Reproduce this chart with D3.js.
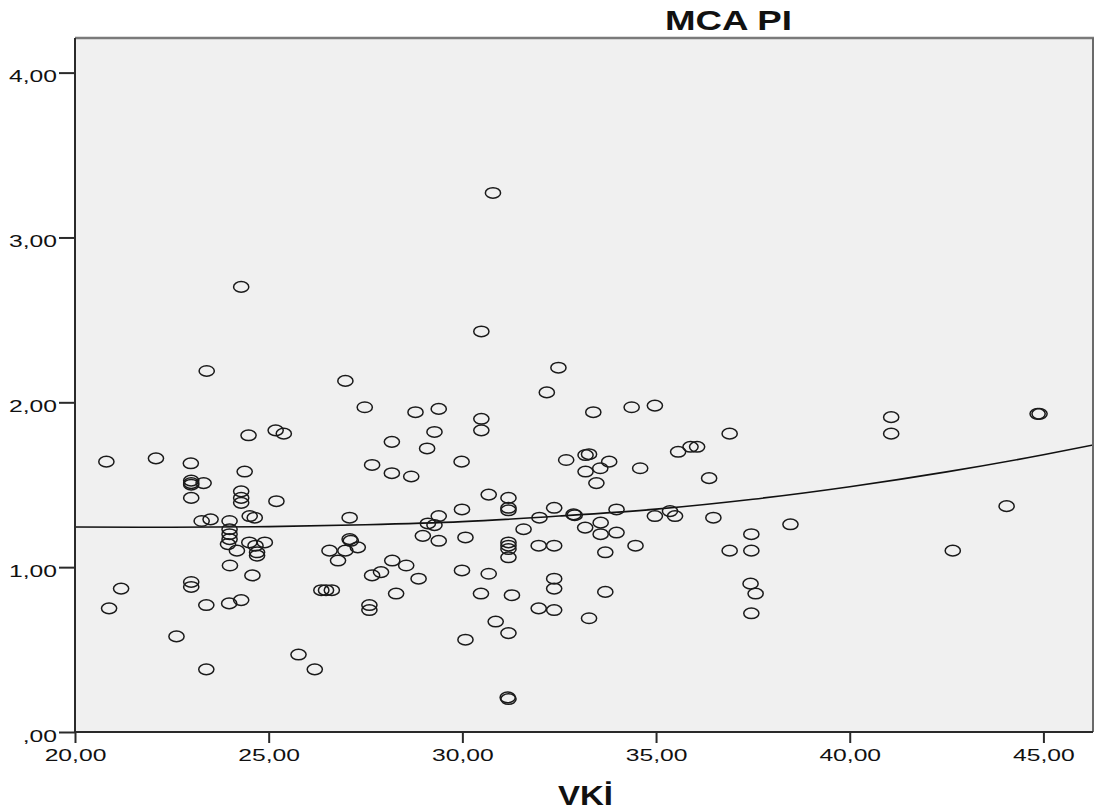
<!DOCTYPE html>
<html><head><meta charset="utf-8">
<script src="https://cdn.jsdelivr.net/npm/d3@7"></script>
<style>html,body{margin:0;padding:0;background:#fff;} svg{display:block;font-family:"Liberation Sans",Arial,sans-serif;}</style>
</head><body><svg id="c" width="1094" height="812"></svg>
<script>
// VKİ (x) values of each case
const bmiValues = [
 20.81,20.88,21.19,22.09,22.62,22.99,23.00,23.00,23.00,23.32,23.00,23.00,23.00,23.40,23.39,23.39,
 23.27,23.50,23.99,23.99,23.99,23.99,23.95,24.18,24.00,23.98,24.29,24.29,24.29,24.29,24.29,24.38,
 24.48,24.51,24.64,24.50,24.66,24.90,24.70,24.70,24.58,25.18,25.39,25.20,25.77,26.19,26.36,26.48,
 26.63,26.57,26.79,26.98,26.98,27.09,27.09,27.12,27.30,27.48,27.60,27.60,27.67,27.67,27.90,28.18,
 28.18,28.19,28.29,28.55,28.68,28.79,28.87,28.98,29.09,29.11,29.28,29.28,29.39,29.39,29.39,29.98,
 29.99,30.08,29.99,30.08,30.48,30.49,30.49,30.49,30.68,30.68,30.79,30.86,31.19,31.19,31.19,31.19,
 31.19,31.19,31.19,31.19,31.17,31.19,31.28,31.58,31.97,31.97,31.99,32.18,32.37,32.37,32.37,32.37,
 32.37,32.48,32.68,32.87,32.90,33.17,33.18,33.27,33.18,33.27,33.38,33.46,33.56,33.57,33.57,33.69,
 33.69,33.79,33.98,33.98,34.37,34.47,34.59,34.97,34.97,35.36,35.49,35.57,35.89,36.06,36.37,36.48,
 36.90,36.90,37.46,37.46,37.44,37.57,37.46,38.47,41.07,41.07,42.66,44.05,44.85,44.90
];
// MCA PI (y) values of each case
const mcaPiValues = [
 1.64,0.75,0.87,1.66,0.58,1.63,1.525,1.51,1.50,1.51,1.42,0.91,0.88,2.19,0.77,0.38,
 1.28,1.29,1.28,1.23,1.20,1.17,1.14,1.10,1.01,0.78,0.80,2.70,1.46,1.42,1.39,1.58,
 1.80,1.31,1.30,1.15,1.13,1.15,1.09,1.07,0.95,1.83,1.81,1.40,0.47,0.38,0.86,0.86,
 0.86,1.10,1.04,1.10,2.13,1.30,1.17,1.16,1.12,1.97,0.77,0.74,1.62,0.95,0.97,1.76,
 1.57,1.04,0.84,1.01,1.55,1.94,0.93,1.19,1.72,1.265,1.255,1.82,1.96,1.31,1.16,1.64,
 1.35,1.18,0.98,0.56,0.84,2.43,1.90,1.83,1.44,0.96,3.27,0.67,1.42,1.36,1.345,1.15,
 1.13,1.11,1.06,0.60,0.21,0.20,0.83,1.23,1.13,0.75,1.30,2.06,1.36,1.13,0.93,0.87,
 0.74,2.21,1.65,1.32,1.315,1.24,1.68,1.685,1.58,0.69,1.94,1.51,1.60,1.27,1.20,1.09,
 0.85,1.64,1.35,1.21,1.97,1.13,1.60,1.98,1.31,1.34,1.31,1.70,1.73,1.73,1.54,1.30,
 1.81,1.10,1.20,1.10,0.90,0.84,0.72,1.26,1.91,1.81,1.10,1.37,1.93,1.93
];
// fit line
const fitBmi   = [20, 22.5, 25, 27.5, 30, 32.5, 35, 37.5, 40, 42.5, 45, 46.3];
const fitMcaPi = [1.244,1.242,1.246,1.257,1.276,1.310,1.352,1.412,1.488,1.578,1.682,1.742];

const xTickValues = [20,25,30,35,40,45];
const xTickLabels = ["20,00","25,00","30,00","35,00","40,00","45,00"];
const yTickValues = [0,1,2,3,4];
const yTickLabels = [",00","1,00","2,00","3,00","4,00"];
const chartTitle = "MCA PI";
const xAxisTitle = "VKİ";

const svg = d3.select("#c");
const L = 75, R = 1093, T = 38, B = 732;
const x = d3.scaleLinear().domain([20, 46.28]).range([L, R]);
const y = d3.scaleLinear().domain([0, 4.21]).range([B, T]);
const STRETCH = 1.45;

svg.append("rect").attr("x", L).attr("y", T).attr("width", R - L).attr("height", B - T).attr("fill", "#f0f0f0");
svg.append("defs").append("clipPath").attr("id", "clip")
  .append("rect").attr("x", L).attr("y", T).attr("width", R - L).attr("height", B - T);

// fit line
const fitData = fitBmi.map((d, i) => [d, fitMcaPi[i]]);
svg.append("path").datum(fitData)
  .attr("clip-path", "url(#clip)")
  .attr("d", d3.line().x(d => x(d[0])).y(d => y(d[1])).curve(d3.curveMonotoneX))
  .attr("fill", "none").attr("stroke", "#111").attr("stroke-width", 1.6);

// points
const pts = bmiValues.map((d, i) => ({ x: d, y: mcaPiValues[i] }));
svg.append("g").selectAll("ellipse").data(pts).join("ellipse")
  .attr("cx", d => x(d.x)).attr("cy", d => y(d.y))
  .attr("rx", 7.6).attr("ry", 5.3)
  .attr("fill", "none").attr("stroke", "#1a1a1a").attr("stroke-width", 1.5);

// top & right frame
svg.append("line").attr("x1", L).attr("x2", R + 1).attr("y1", T).attr("y2", T).attr("stroke", "#7a7a7a").attr("stroke-width", 2.5);
svg.append("line").attr("x1", R).attr("x2", R).attr("y1", T).attr("y2", B).attr("stroke", "#6a6a6a").attr("stroke-width", 2);

function stretchText(sel, anchor) {
  sel.each(function () {
    const t = d3.select(this);
    t.attr("text-anchor", "start");
    const w = this.getComputedTextLength() * STRETCH;
    t.attr("textLength", w).attr("lengthAdjust", "spacingAndGlyphs");
    const x0 = +t.attr("x") || 0;
    if (anchor === "end") t.attr("x", x0 - w);
    else if (anchor === "middle") t.attr("x", x0 - w / 2);
  });
}

// x axis
const gx = svg.append("g").attr("transform", `translate(0,${B})`)
  .call(d3.axisBottom(x).tickValues(xTickValues).tickSize(11).tickFormat((d, i) => xTickLabels[i]));
gx.select(".domain").attr("stroke", "#2a2a2a").attr("stroke-width", 2).attr("d", `M${L},0H${R}`);
gx.selectAll(".tick line").attr("stroke", "#2a2a2a").attr("stroke-width", 2);
gx.selectAll(".tick text").attr("y", 29).attr("dy", 0).attr("x", 0)
  .attr("font-size", 17).attr("fill", "#111").attr("font-family", "Liberation Sans, Arial, sans-serif")
  .call(s => stretchText(s, "middle"));

// y axis
const gy = svg.append("g").attr("transform", `translate(${L},0)`)
  .call(d3.axisLeft(y).tickValues(yTickValues).tickSize(16).tickFormat((d, i) => yTickLabels[i]));
gy.select(".domain").attr("stroke", "#2a2a2a").attr("stroke-width", 2).attr("d", `M0,${T}V${B}`);
gy.selectAll(".tick line").attr("stroke", "#2a2a2a").attr("stroke-width", 2);
gy.selectAll(".tick text").attr("x", -18).attr("dy", 9)
  .attr("font-size", 17).attr("fill", "#111").attr("font-family", "Liberation Sans, Arial, sans-serif")
  .call(s => stretchText(s, "end"));

// titles
svg.append("text").attr("x", 665).attr("y", 30).attr("font-size", 28).attr("font-weight", "bold")
  .attr("fill", "#111").attr("textLength", 127).attr("lengthAdjust", "spacingAndGlyphs").text(chartTitle);
svg.append("text").attr("x", 558).attr("y", 805).attr("font-size", 28).attr("font-weight", "bold")
  .attr("fill", "#111").attr("textLength", 55).attr("lengthAdjust", "spacingAndGlyphs").text(xAxisTitle);
</script></body></html>
